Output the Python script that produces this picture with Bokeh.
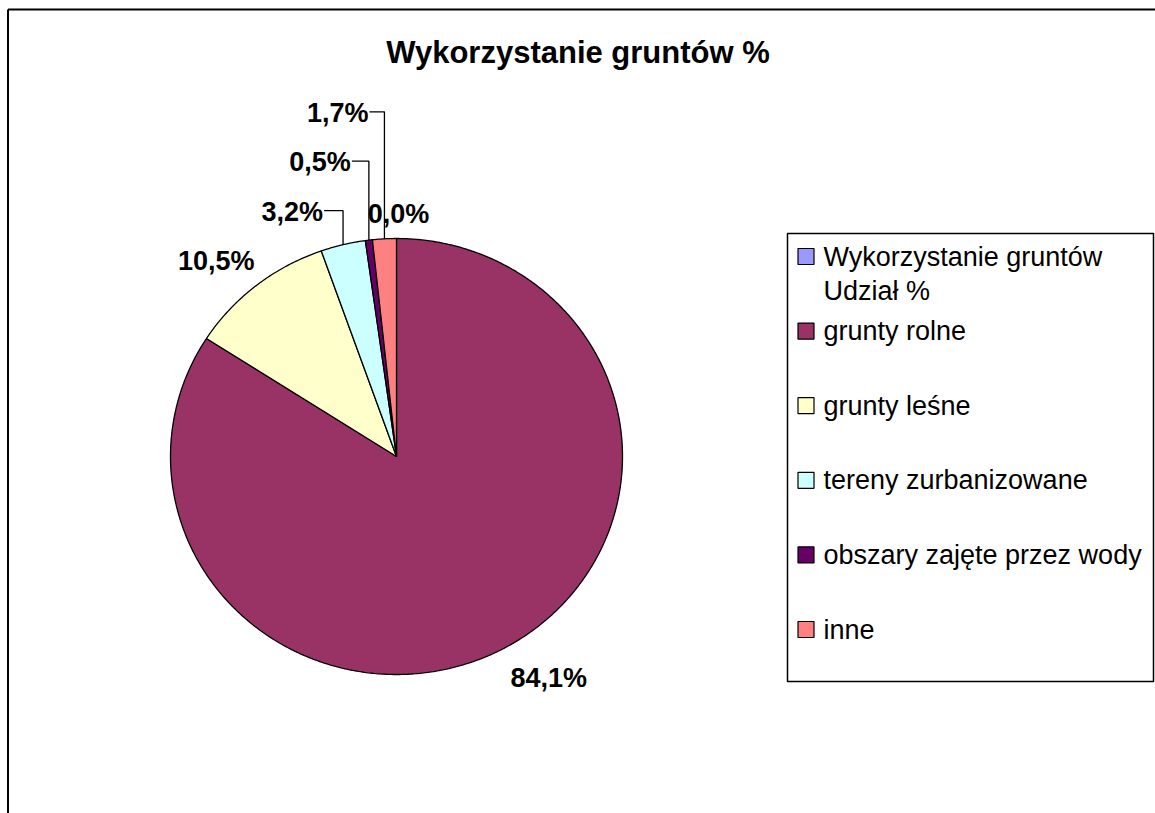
import math
from bokeh.plotting import figure
from bokeh.models import Range1d
from bokeh.embed import file_html
from bokeh.resources import INLINE
from bokeh.core.properties import value

# ---------------- data ----------------
title_text = "Wykorzystanie gruntów %"
categories = ["Wykorzystanie gruntów\nUdział %", "grunty rolne", "grunty leśne",
              "tereny zurbanizowane", "obszary zajęte przez wody", "inne"]
shares = [0.0, 84.1, 10.5, 3.2, 0.5, 1.7]
share_labels = ["0,0%", "84,1%", "10,5%", "3,2%", "0,5%", "1,7%"]

# ---------------- styles / layout ----------------
colors = ["#9999FF", "#993366", "#FFFFCC", "#CCFFFF", "#660066", "#FF8080"]
FONT = "Liberation Sans"
W, H = 1155, 813
X0, Y0 = 0, 0
CX, CY, RX, RY = 396.0, 456.0, 226.0, 218.0
# label offsets from the slice's mid-angle point on the pie edge
# (dx, dy, align, leader)
label_layout = [
    (2, -25, "center", False),
    (44, 30, "center", False),
    (-40, -25, "center", False),
    (-20, -33, "right", True),
    (-18, -78, "right", True),
    (-16, -126, "right", True),
]
LEG_L, LEG_R, LEG_T, LEG_B = 787, 1153, 233, 681
LEG_SQ_X, LEG_TX_X = 805.5, 823
LEG_Y0, LEG_DY, LEG_LINE = 256, 74.6, 34

p = figure(width=W, height=H, output_backend="svg", toolbar_location=None,
           x_range=Range1d(X0, X0 + W), y_range=Range1d(Y0 + H, Y0),
           min_border=0, outline_line_color=None)
p.axis.visible = False
p.grid.visible = False
p.background_fill_color = "white"
p.border_fill_color = "white"

# chart border (top and left visible)
p.segment(x0=[7.5, 7.5], y0=[9, 9], x1=[X0 + W, 7.5], y1=[9, Y0 + H],
          line_color="black", line_width=2)

# ---------------- pie ----------------
total = sum(shares)
xs, ys, fills = [], [], []
mids = []
cum = 0.0
for s, c in zip(shares, colors):
    a0 = cum / total * 2 * math.pi
    a1 = (cum + s) / total * 2 * math.pi
    cum += s
    am = (a0 + a1) / 2
    mids.append((CX + RX * math.sin(am), CY - RY * math.cos(am)))
    if s <= 0:
        continue
    n = max(4, int(abs(a1 - a0) / (2 * math.pi) * 720))
    px = [CX]
    py = [CY]
    for i in range(n + 1):
        a = a0 + (a1 - a0) * i / n
        px.append(CX + RX * math.sin(a))
        py.append(CY - RY * math.cos(a))
    xs.append(px)
    ys.append(py)
    fills.append(c)

p.patches(xs=xs, ys=ys, fill_color=fills, line_color="black", line_width=1.3)

# ---------------- data labels ----------------
for (ex, ey), lab, (dx, dy, al, leader) in zip(mids, share_labels, label_layout):
    tx, ty = ex + dx, ey + dy
    p.text(x=[tx], y=[ty], text=[lab], text_font=value(FONT), text_font_style="bold",
           text_font_size="27px", text_align=al, text_baseline="middle", text_color="black")
    if leader:
        ly = ty - 1
        p.line(x=[tx + 1, ex, ex], y=[ly, ly, ey], line_color="black", line_width=1.3)

# ---------------- title ----------------
p.text(x=[577.5], y=[52], text=[title_text], text_font=value(FONT), text_font_style="bold",
       text_font_size="31px", text_align="center", text_baseline="middle", text_color="black")

# ---------------- legend ----------------
p.quad(left=[LEG_L], right=[LEG_R], top=[LEG_T], bottom=[LEG_B],
       fill_color="white", line_color="black", line_width=1.5)
row_y = [LEG_Y0 + i * LEG_DY for i in range(len(categories))]
p.scatter(x=[LEG_SQ_X] * len(categories), y=row_y, marker="square", size=16,
          fill_color=colors, line_color="black", line_width=1.2)
tx_list, ty_list, tt_list = [], [], []
for cat, yy in zip(categories, row_y):
    for j, line in enumerate(cat.split("\n")):
        tx_list.append(LEG_TX_X)
        ty_list.append(yy + j * LEG_LINE)
        tt_list.append(line)
p.text(x=tx_list, y=ty_list, text=tt_list, text_font=value(FONT), text_font_size="27px",
       text_align="left", text_baseline="middle", text_color="black")

open("out.html", "w").write(file_html(p, INLINE))
